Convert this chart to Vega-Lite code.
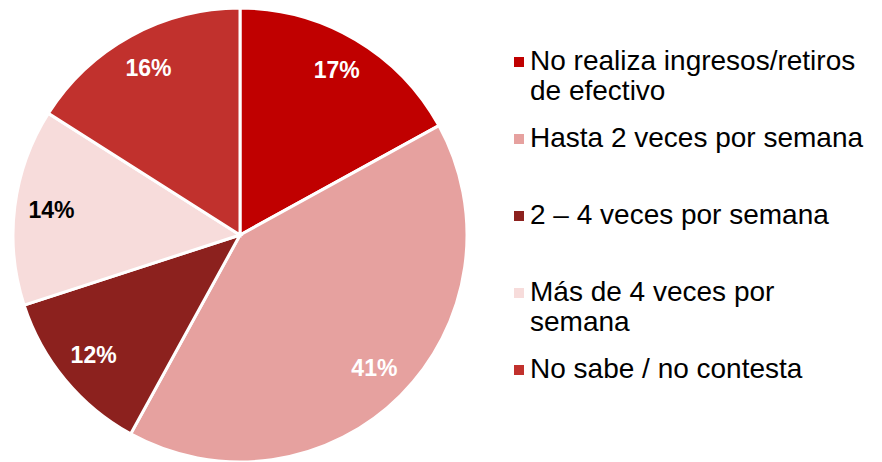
{
  "$schema": "https://vega.github.io/schema/vega-lite/v6.json",
  "width": 480,
  "height": 462,
  "padding": 0,
  "background": "white",
  "config": {"view": {"stroke": null}, "font": "Liberation Sans"},
  "data": {
    "values": [
      {"cat": "No realiza ingresos/retiros de efectivo", "value": 17, "ord": 1, "label": "17%"},
      {"cat": "Hasta 2 veces por semana", "value": 41, "ord": 2, "label": "41%"},
      {"cat": "2 – 4 veces por semana", "value": 12, "ord": 3, "label": "12%"},
      {"cat": "Más de 4 veces por semana", "value": 14, "ord": 4, "label": "14%"},
      {"cat": "No sabe / no contesta", "value": 16, "ord": 5, "label": "16%"}
    ]
  },
  "encoding": {
    "theta": {"field": "value", "type": "quantitative", "stack": true},
    "order": {"field": "ord", "type": "quantitative"}
  },
  "layer": [
    {
      "mark": {"type": "arc", "outerRadius": 227, "stroke": "white", "strokeWidth": 3, "yOffset": 4},
      "encoding": {
        "color": {
          "field": "cat",
          "type": "nominal",
          "sort": null,
          "scale": {
            "domain": ["No realiza ingresos/retiros de efectivo", "Hasta 2 veces por semana", "2 – 4 veces por semana", "Más de 4 veces por semana", "No sabe / no contesta"],
            "range": ["#C00000", "#E6A19F", "#8C211E", "#F7DCDB", "#C1312D"]
          },
          "legend": {
            "title": null,
            "orient": "none",
            "legendX": 505,
            "legendY": 48,
            "symbolType": "square",
            "symbolSize": 100,
            "symbolStrokeWidth": 0,
            "labelFont": "Liberation Sans",
            "labelFontSize": 28,
            "labelColor": "black",
            "labelLineHeight": 33,
            "labelOffset": -3,
            "labelLimit": 500,
            "rowPadding": 19,
            "labelExpr": "datum.label == 'No realiza ingresos/retiros de efectivo' ? ['No realiza ingresos/retiros', 'de efectivo'] : datum.label == 'Más de 4 veces por semana' ? ['Más de 4 veces por', 'semana'] : [datum.label, ' ']"
          }
        }
      }
    },
    {
      "mark": {"type": "text", "radius": 190, "fontSize": 23, "fontWeight": "bold", "font": "Liberation Sans", "yOffset": 4},
      "encoding": {
        "text": {"field": "label"},
        "color": {
          "condition": {"test": "datum.cat == 'Más de 4 veces por semana'", "value": "black"},
          "value": "white"
        }
      }
    }
  ]
}
